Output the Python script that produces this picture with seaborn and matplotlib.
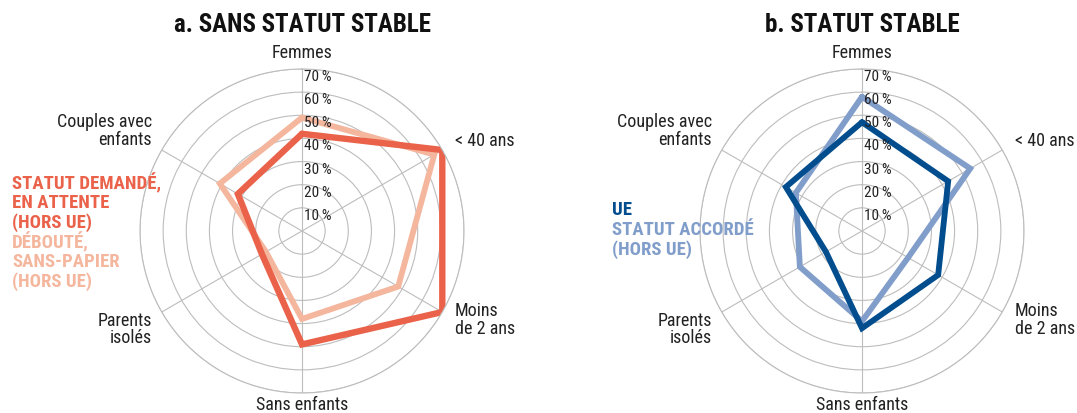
import numpy as np
import pandas as pd
import matplotlib
matplotlib.use('Agg')
import matplotlib.pyplot as plt
from matplotlib import font_manager
import seaborn as sns

sns.set_theme(style='white')
installed = {f.name for f in font_manager.fontManager.ttflist}
FONT = next(f for f in ['Roboto Condensed', 'Liberation Sans Narrow', 'Roboto', 'DejaVu Sans'] if f in installed)
plt.rcParams['font.family'] = [FONT, 'DejaVu Sans']

# categories (clockwise from top)
categories = ['Femmes', '< 40 ans', 'Moins\nde 2 ans', 'Sans enfants', 'Parents\nisolés', 'Couples avec\nenfants']
# a. sans statut stable
a_demande = [42, 70, 70, 49, 20, 32]
a_deboute = [49, 66, 48, 38, 18, 41]
# b. statut stable
b_ue = [47, 43, 38, 42, 18, 38]
b_accorde = [58, 54, 23, 39, 31, 33]
ring_ticks = [10, 20, 30, 40, 50, 60, 70]

ORANGE = '#EA624A'
SALMON = '#F5B69E'
BLUE = '#014D8E'
LIGHTBLUE = '#819ECB'
GRID = '#BDBDBD'

W, H = 1077, 414
fig = plt.figure(figsize=(W / 100, H / 100), dpi=100)

theta = np.deg2rad(np.arange(6) * 60)

# label positions in axes fraction (axes square = outer ring)
label_pos = [
    (0.5, 1.052, 'center'),
    (0.972, 0.781, 'left'),
    (0.972, 0.228, 'left'),
    (0.5, -0.034, 'center'),
    (0.037, 0.198, 'right'),
    (0.037, 0.812, 'right'),
]


def radar(cx, title, series):
    R = 162
    ax = fig.add_axes([(cx - R) / W, (H - 232 - R) / H, 2 * R / W, 2 * R / H], projection='polar')
    ax.set_theta_zero_location('N')
    ax.set_theta_direction(-1)
    ax.set_ylim(0, 70)
    ax.set_xticks(theta)
    ax.set_xticklabels([])
    ax.set_yticks(ring_ticks)
    ax.set_yticklabels([])
    ax.grid(True, color=GRID, lw=0.8)
    ax.spines['polar'].set_color(GRID)
    ax.spines['polar'].set_linewidth(0.8)
    ax.set_facecolor('none')

    for vals, col, lw in series:
        df = pd.DataFrame({'t': np.append(theta, theta[0]), 'v': vals + vals[:1]})
        sns.lineplot(data=df, x='t', y='v', sort=False, estimator=None, color=col,
                     lw=lw, ax=ax, solid_joinstyle='miter')
    ax.set_xlabel('')
    ax.set_ylabel('')

    for r in ring_ticks:
        ax.annotate(f'{r}\u2009%', xy=(0, r), xytext=(1.5, -5), textcoords='offset points',
                    ha='left', va='center', fontsize=11, color='#222222')

    for name, (x, y, ha) in zip(categories, label_pos):
        ax.text(x, y, name, transform=ax.transAxes, ha=ha, va='center', multialignment=ha,
                fontsize=13, color='#222222', linespacing=0.95)

    fig.text(cx / W, 1 - 25 / H, title, ha='center', va='center', fontsize=18,
             fontweight='bold', color='#111111')
    return ax


radar(302, 'a. SANS STATUT STABLE', [(a_deboute, SALMON, 4.2), (a_demande, ORANGE, 4.6)])
radar(862, 'b. STATUT STABLE', [(b_accorde, LIGHTBLUE, 4.2), (b_ue, BLUE, 4.2)])

# legends as text
leg_a = [('STATUT DEMANDÉ,', ORANGE), ('EN ATTENTE', ORANGE), ('(HORS UE)', ORANGE),
         ('DÉBOUTÉ,', SALMON), ('SANS-PAPIER', SALMON), ('(HORS UE)', SALMON)]
for i, (t, c) in enumerate(leg_a):
    fig.text(12 / W, 1 - (183 + i * 19.8) / H, t, ha='left', va='center', fontsize=13.5,
             fontweight='bold', color=c)

leg_b = [('UE', BLUE), ('STATUT ACCORDÉ', LIGHTBLUE), ('(HORS UE)', LIGHTBLUE)]
for i, (t, c) in enumerate(leg_b):
    fig.text(612 / W, 1 - (210 + i * 19.8) / H, t, ha='left', va='center', fontsize=13.5,
             fontweight='bold', color=c)

fig.savefig('out.png', dpi=100, facecolor='white')
